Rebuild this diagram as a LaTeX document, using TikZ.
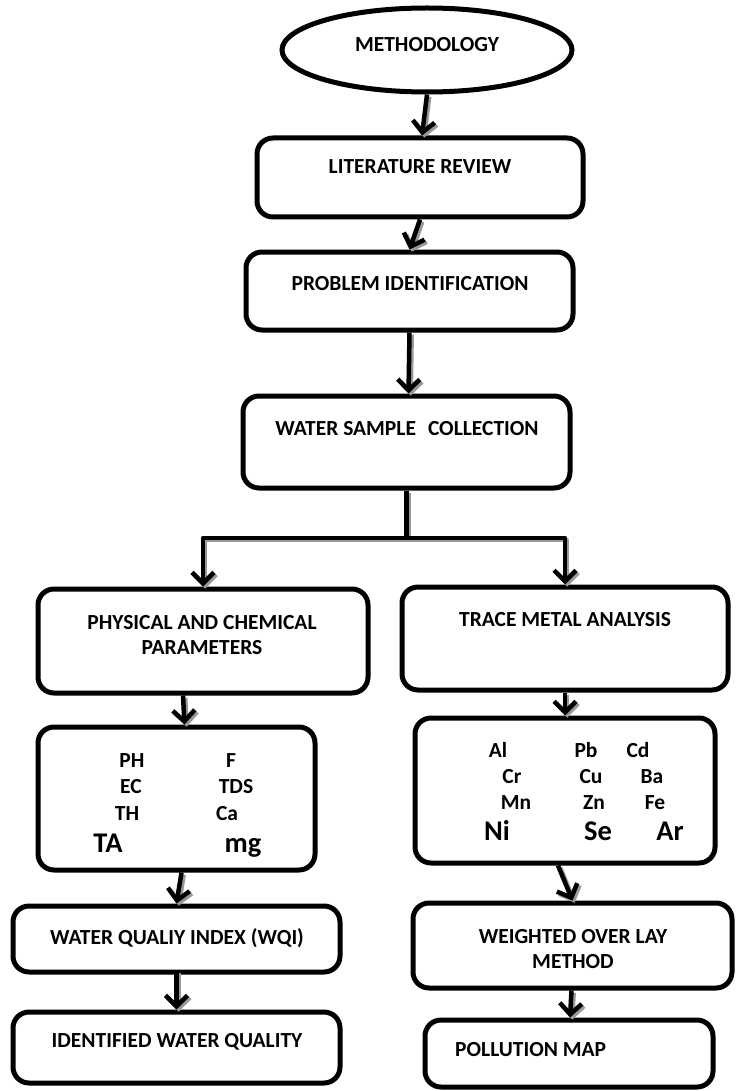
\documentclass[tikz,border=0pt]{standalone}
\usepackage{fontspec}
\setmainfont{Carlito}
\usetikzlibrary{arrows.meta,shapes.geometric}
\begin{document}
\begin{tikzpicture}[x=1pt,y=-1pt,
  box/.style={draw, line width=5pt, rounded corners=16pt, inner sep=0pt},
  lbl/.style={font=\bfseries\fontsize{21.5}{25}\selectfont, inner sep=0pt, anchor=base},
  twol/.style={font=\bfseries\fontsize{21.5}{25}\selectfont, inner sep=0pt, align=center},
  big/.style={font=\bfseries\fontsize{28.5}{31}\selectfont, inner sep=0pt, anchor=base},
  conn/.style={line width=4.5pt, line join=round, -{Straight Barb[length=11pt,width=22pt,line join=miter]}},
  plain/.style={line width=4.5pt},
  shade/.style={draw=black!40, transform canvas={xshift=2.2pt,yshift=-2.2pt}},
]
\useasboundingbox (0,0) rectangle (738,1091);
\fill[white] (0,0) rectangle (738,1091);

% ---- shapes ----
\node[ellipse, draw, line width=5pt, minimum width=290pt, minimum height=84pt, inner sep=0pt] (ell) at (427,50) {};
\node[lbl] (tell) at (427,52) {METHODOLOGY};

\node[box, minimum width=326pt, minimum height=79pt] (lit) at (420,177.5) {};
\node[lbl] (tlit) at (420,174) {LITERATURE REVIEW};

\node[box, minimum width=327pt, minimum height=78pt] (prob) at (409.5,291) {};
\node[lbl] (tprob) at (410,290) {PROBLEM IDENTIFICATION};

\node[box, minimum width=327pt, minimum height=92pt] (water) at (406.5,442) {};
\node[lbl] (twater) at (407,435) {WATER SAMPLE\hspace{12pt}COLLECTION};

\node[box, minimum width=330pt, minimum height=104pt] (phys) at (203,641) {};
\node[twol] (tphys) at (202,635) {PHYSICAL AND CHEMICAL\\PARAMETERS};

\node[box, minimum width=326pt, minimum height=103pt] (trace) at (565,638.5) {};
\node[lbl] (ttrace) at (565,626) {TRACE METAL ANALYSIS};

\node[box, minimum width=277pt, minimum height=143pt] (params) at (176.5,798.5) {};
\node[lbl] (pPH) at (132,767) {PH};
\node[lbl] (pF) at (231,767) {F};
\node[lbl] (pEC) at (131,793) {EC};
\node[lbl] (pTDS) at (236,793) {TDS};
\node[lbl] (pTH) at (127,820) {TH};
\node[lbl] (pCa) at (227,820) {Ca};
\node[big] (pTA) at (108,852) {TA};
\node[big] (pmg) at (243,852) {mg};

\node[box, minimum width=300pt, minimum height=145pt] (metals) at (565,790.5) {};
\node[lbl] (mAl) at (498,757) {Al};
\node[lbl] (mPb) at (586,757) {Pb};
\node[lbl] (mCd) at (638,757) {Cd};
\node[lbl] (mCr) at (512,783) {Cr};
\node[lbl] (mCu) at (591,783) {Cu};
\node[lbl] (mBa) at (652,783) {Ba};
\node[lbl] (mMn) at (516,809) {Mn};
\node[lbl] (mZn) at (594,809) {Zn};
\node[lbl] (mFe) at (655,809) {Fe};
\node[big] (mNi) at (497,840) {Ni};
\node[big] (mSe) at (598,840) {Se};
\node[big] (mAr) at (670,840) {Ar};

\node[box, minimum width=327pt, minimum height=66pt] (wqi) at (176.5,939) {};
\node[lbl] (twqi) at (177,944) {WATER QUALIY INDEX (WQI)};

\node[box, minimum width=327pt, minimum height=71pt] (ident) at (176.5,1047.5) {};
\node[lbl] (tident) at (177,1047) {IDENTIFIED WATER QUALITY};

\node[box, minimum width=319pt, minimum height=85pt] (weighted) at (572.5,945.5) {};
\node[twol] (tweighted) at (573,949) {WEIGHTED OVER LAY\\METHOD};

\node[box, minimum width=288pt, minimum height=67pt] (poll) at (569,1053.5) {};
\node[lbl, anchor=base west] (tpoll) at (455,1056) {POLLUTION MAP};

% ---- connectors ----
\coordinate (split) at (406.5,538);

\foreach \s in {shade,}{
  \draw[conn,\s] (ell.south) -- ([xshift=2pt]lit.north);
  \draw[conn,\s] (lit.south) -- (prob.north);
  \draw[conn,\s] (prob.south) -- ([xshift=2pt]water.north);
  \draw[plain,\s] (water.south) -- (split);
  \draw[conn,\s] (split) -| (phys.north);
  \draw[conn,\s] (split) -| (trace.north);
  \draw[conn,\s] ([xshift=-20pt]phys.south) -- ([xshift=8pt]params.north);
  \draw[conn,\s] (trace.south) -- (metals.north);
  \draw[conn,\s] ([xshift=5pt]params.south) -- (wqi.north);
  \draw[conn,\s] ([yshift=4pt]wqi.south) -- (ident.north);
  \draw[conn,\s] ([xshift=-7pt]metals.south) -- (weighted.north);
  \draw[conn,\s] ([xshift=-1pt]weighted.south) -- ([xshift=1pt]poll.north);
}
\end{tikzpicture}
\end{document}
